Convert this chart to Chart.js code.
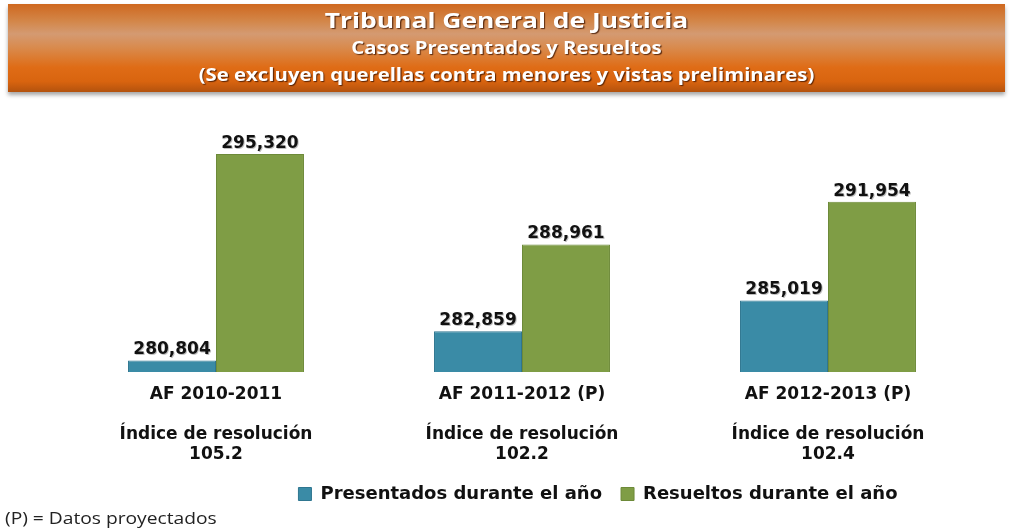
<!DOCTYPE html>
<html>
<head>
<meta charset="utf-8">
<script src="https://cdn.jsdelivr.net/npm/chart.js@4.4.0/dist/chart.umd.min.js"></script>
<style>
    html, body { margin: 0; padding: 0; background: #fff; }
    body { width: 1010px; height: 531px; position: relative; overflow: hidden; }
    #banner {
        position: absolute; left: 8px; top: 4px; width: 997px; height: 88px;
        background: linear-gradient(to bottom, #cf681f 0%, #d3874a 20%, #d49a72 34%, #d98a4c 50%, #df6c16 72%, #d9640f 88%, #b3520e 100%);
        box-shadow: 0 3px 4px rgba(0,0,0,0.35);
        text-align: center; color: #fff;
        font-family: "Open Sans", sans-serif; font-weight: bold;
        text-shadow: 1px 1px 1px rgba(60,20,0,0.8);
        z-index: 2;
    }
    #banner div { white-space: nowrap; }
    #banner .l1 { font-size: 22px; line-height: 26px; margin-top: 2px; transform: scaleX(1.2); }
    #banner .l2 { font-size: 18px; line-height: 30px; transform: scaleX(1.13); }
    #banner .l3 { font-size: 18px; line-height: 24px; transform: scaleX(1.13); }
    #note {
        position: absolute; left: 5px; top: 507px;
        font-family: "Open Sans", sans-serif; font-size: 16px; color: #222;
        transform: scaleX(1.2); transform-origin: left center;
        z-index: 2;
    }
    #wrap { position: absolute; left: 0; top: 0; width: 1010px; height: 531px; }
</style>
</head>
<body>
<div id="banner">
    <div class="l1">Tribunal General de Justicia</div>
    <div class="l2">Casos Presentados y Resueltos</div>
    <div class="l3">(Se excluyen querellas contra menores y vistas preliminares)</div>
</div>
<div id="wrap"><canvas id="casosChart"></canvas></div>
<div id="note">(P) = Datos proyectados</div>

<script>
// Chart data
const years = ['AF 2010-2011', 'AF 2011-2012 (P)', 'AF 2012-2013 (P)'];
const indices = ['105.2', '102.2', '102.4'];
const presentados = [280804, 282859, 285019];
const resueltos = [295320, 288961, 291954];

const labelFont = 'DejaVu Sans';

// Draws the value above each bar
const valueLabels = {
    id: 'valueLabels',
    afterDatasetsDraw(chart) {
        const ctx = chart.ctx;
        ctx.save();
        ctx.font = 'bold 17px "' + labelFont + '"';
        ctx.textAlign = 'center';
        ctx.textBaseline = 'bottom';
        ctx.fillStyle = '#111';
        ctx.shadowColor = 'rgba(0,0,0,0.25)';
        ctx.shadowOffsetX = 1;
        ctx.shadowOffsetY = 1;
        chart.data.datasets.forEach(function(ds, i) {
            chart.getDatasetMeta(i).data.forEach(function(bar, j) {
                const txt = new Intl.NumberFormat('en-US').format(ds.data[j]);
                ctx.fillText(txt, bar.x, bar.y - 2);
            });
        });
        ctx.restore();
    }
};

// The legend sits right of centre in the original
const legendShift = {
    id: 'legendShift',
    afterLayout(chart) {
        const lg = chart.legend;
        lg.left += 76;
        lg.right += 76;
    }
};

document.addEventListener('DOMContentLoaded', function() {
    const ctx = document.getElementById('casosChart').getContext('2d');

    new Chart(ctx, {
        type: 'bar',
        data: {
            labels: years.map(function(y, i) {
                return [y, '', 'Índice de resolución', indices[i]];
            }),
            datasets: [{
                label: 'Presentados durante el año',
                data: presentados,
                backgroundColor: '#3a8ba6',
                borderColor: '#2f7690',
                borderWidth: 1,
                barPercentage: 1,
                categoryPercentage: 0.575
            }, {
                label: 'Resueltos durante el año',
                data: resueltos,
                backgroundColor: '#7f9d45',
                borderColor: '#6d8a39',
                borderWidth: 1,
                barPercentage: 1,
                categoryPercentage: 0.575
            }]
        },
        options: {
            responsive: true,
            maintainAspectRatio: false,
            animation: false,
            layout: {
                padding: { top: 130, left: 63, right: 29, bottom: 18 }
            },
            plugins: {
                legend: {
                    position: 'bottom',
                    labels: {
                        boxWidth: 13,
                        boxHeight: 13,
                        color: '#111',
                        padding: 19,
                        font: { family: labelFont, size: 18, weight: 'bold' }
                    }
                },
                tooltip: { enabled: false }
            },
            scales: {
                x: {
                    grid: { display: false, drawTicks: false },
                    border: { display: false },
                    ticks: {
                        color: '#111',
                        padding: 13,
                        font: { family: labelFont, size: 17, weight: 'bold', lineHeight: '20px' }
                    },
                    afterFit: function(scale) {
                        scale.height = 94;
                    }
                },
                y: {
                    display: false,
                    min: 280000,
                    max: 297000
                }
            }
        },
        plugins: [valueLabels, legendShift]
    });
});
</script>
</body>
</html>
